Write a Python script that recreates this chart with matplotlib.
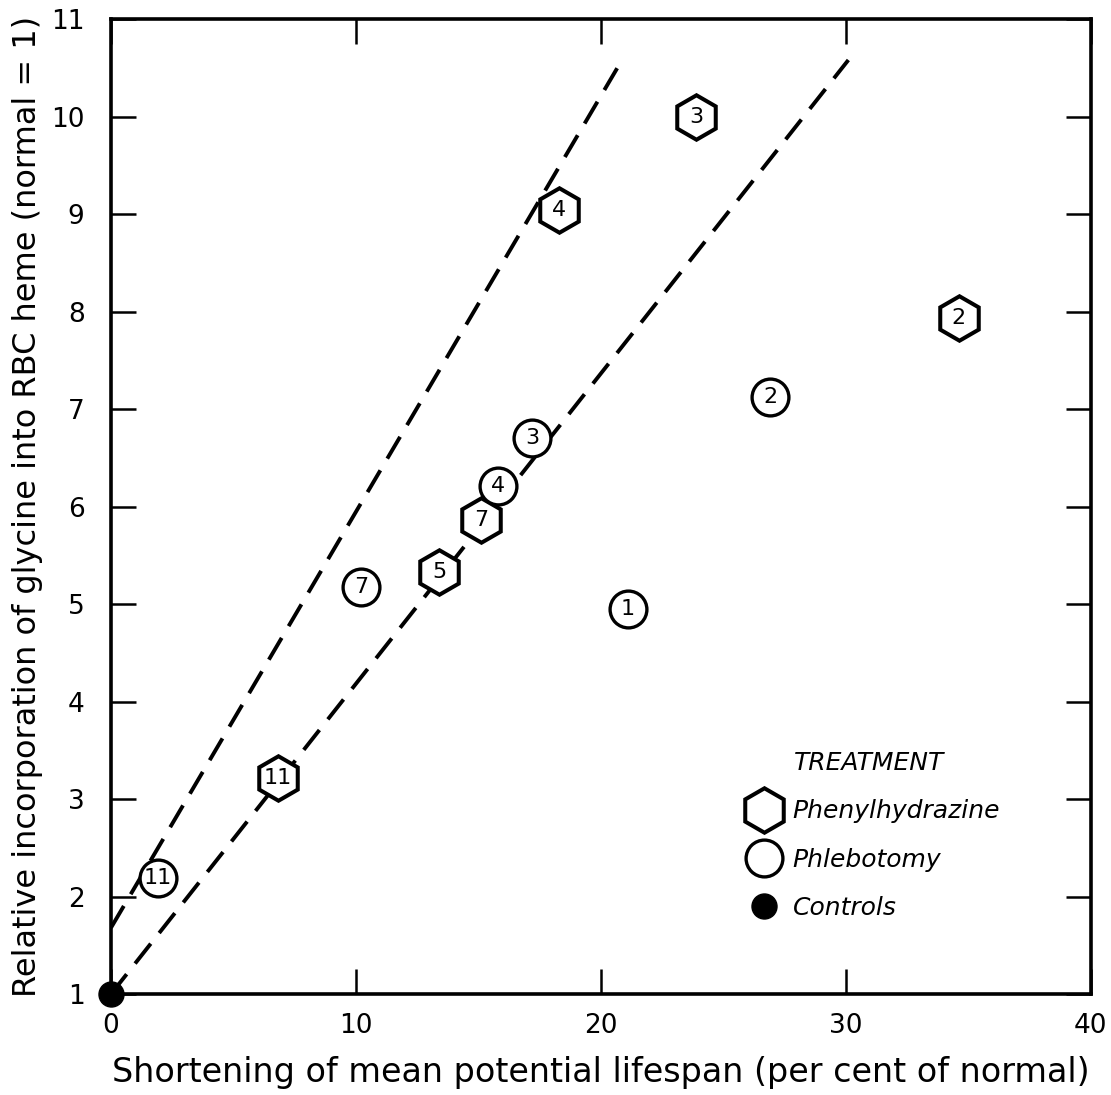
import matplotlib.pyplot as plt
from matplotlib.lines import Line2D

plt.rcParams['font.family'] = 'DejaVu Sans'

# phenylhydrazine-treated animals (hexagons), label = number of animals
phen_x = [23.9, 18.3, 34.6, 15.1, 13.4, 6.8]
phen_y = [10.0, 9.04, 7.93, 5.86, 5.33, 3.22]
phen_n = ['3', '4', '2', '7', '5', '11']

# phlebotomy (open circles)
phleb_x = [26.9, 17.2, 15.8, 10.2, 21.1, 1.9]
phleb_y = [7.12, 6.70, 6.21, 5.17, 4.95, 2.19]
phleb_n = ['2', '3', '4', '7', '1', '11']

# controls
ctrl_x = [0]
ctrl_y = [1]

# dashed limiting lines
upper_x = [0, 20.86]
upper_y = [1.68, 10.58]
lower_x = [0, 30.1]
lower_y = [1.0, 10.58]

fig = plt.figure(figsize=(11.11, 10.95), dpi=100)
ax = fig.add_axes([0.0999, 0.0922, 0.882, 0.8904])

dash_kw = dict(color='black', lw=2.8, dashes=(6.5, 3.5), solid_capstyle='butt')
ax.plot(upper_x, upper_y, **dash_kw, zorder=2)
ax.plot(lower_x, lower_y, **dash_kw, zorder=2)

hex_kw = dict(linestyle='none', marker='h', ms=32, mfc='white', mec='black', mew=2.9)
circ_kw = dict(linestyle='none', marker='o', ms=26.5, mfc='white', mec='black', mew=2.4)
dot_kw = dict(linestyle='none', marker='o', ms=18, color='black')

ax.plot(phen_x, phen_y, **hex_kw, zorder=3)
ax.plot(phleb_x, phleb_y, **circ_kw, zorder=3)
ax.plot(ctrl_x, ctrl_y, **dot_kw, clip_on=False, zorder=4)

for x, y, n in zip(phen_x + phleb_x, phen_y + phleb_y, phen_n + phleb_n):
    ax.text(x, y, n, ha='center', va='center', fontsize=16, zorder=5)

ax.set_xlim(0, 40)
ax.set_ylim(1, 11)
ax.set_xticks([0, 10, 20, 30, 40])
ax.set_yticks(range(1, 12))
ax.tick_params(direction='in', length=18, width=1.8, labelsize=19,
               top=True, right=True)
ax.tick_params(axis='x', pad=14)
ax.tick_params(axis='y', pad=19)
for s in ax.spines.values():
    s.set_linewidth(2.6)

ax.set_xlabel('Shortening of mean potential lifespan (per cent of normal)',
              fontsize=24, labelpad=12)
ax.set_ylabel('Relative incorporation of glycine into RBC heme (normal = 1)',
              fontsize=23, labelpad=6)

handles = [Line2D([], [], **hex_kw), Line2D([], [], **circ_kw), Line2D([], [], **dot_kw)]
leg = ax.legend(handles, ['Phenylhydrazine', 'Phlebotomy', 'Controls'],
                title='TREATMENT', frameon=False, loc='upper left',
                bbox_to_anchor=(0.628, 0.262), prop={'style': 'italic', 'size': 18},
                title_fontproperties={'style': 'italic', 'size': 18},
                handletextpad=0.15, labelspacing=0.97, borderpad=0)

fig.savefig('out.png', dpi=100)
